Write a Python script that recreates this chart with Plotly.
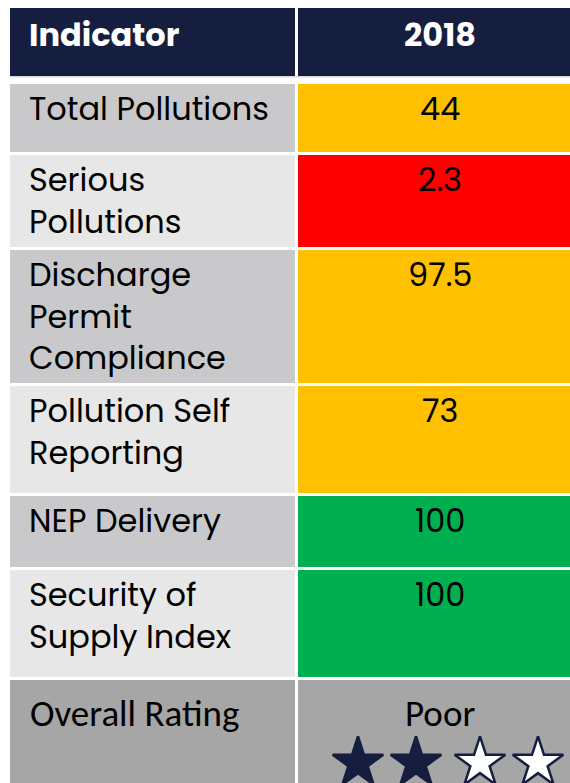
import plotly.graph_objects as go

# ---- data ----
header_labels = ["Indicator", "2018"]
indicators = ["Total Pollutions", "Serious<br>Pollutions", "Discharge<br>Permit<br>Compliance",
              "Pollution Self<br>Reporting", "NEP Delivery", "Security of<br>Supply Index"]
values = ["44", "2.3", "97.5", "73", "100", "100"]
status = ["amber", "red", "amber", "amber", "green", "green"]
overall_label = "Overall Rating"
overall_value = "Poor"
stars_filled = 2
stars_total = 4

# ---- styles / layout ----
W, H = 570, 783
status_color = {"amber": "#FFC000", "red": "#FF0000", "green": "#00B050"}
navy = "#151E3F"
left_bg = ["#C9C9CB", "#E7E7E7"]
overall_bg = "#A6A6A6"
font_main = "Poppins, Open Sans, sans-serif"
font_calibri = "Calibri, Carlito, Lato, sans-serif"
fs = 32

col_left = (10, 295)
col_right = (298, 580)
header_top, header_h = 8, 68
row_start = 84
row_heights = [68, 92, 133, 107, 71, 107, 120]
gap = 3
text_offset = 0
left_pad = 17
right_center = 440

shapes = []
annotations = []

def rect(x0, x1, y0, y1, color):
    shapes.append(dict(type="rect", xref="x", yref="y", x0=x0, x1=x1, y0=y0, y1=y1,
                       fillcolor=color, line=dict(width=0), layer="below"))

def text(x, y, s, anchor, font, size, color="black"):
    annotations.append(dict(x=x, y=y, text=s, xanchor=anchor, yanchor="top",
                            showarrow=False, align="left",
                            font=dict(family=font, size=size, color=color)))

# header
rect(col_left[0], col_left[1], header_top, header_top + header_h, navy)
rect(col_right[0], col_right[1], header_top, header_top + header_h, navy)
rect(col_left[0], col_right[1], header_top + header_h, header_top + header_h + 1.5, "#D9D9DE")
text(col_left[0] + left_pad, header_top + 2, "<b>%s</b>" % header_labels[0], "left", font_main, fs, "white")
text(right_center, header_top + 2, "<b>%s</b>" % header_labels[1], "center", font_main, fs, "white")

# body rows
tops = []
y = row_start
for h in row_heights:
    tops.append(y)
    y += h + gap

for i, (lab, val, st) in enumerate(zip(indicators, values, status)):
    t = tops[i]
    b = t + row_heights[i]
    rect(col_left[0], col_left[1], t, b, left_bg[i % 2])
    rect(col_right[0], col_right[1], t, b, status_color[st])
    text(col_left[0] + left_pad, t + text_offset, lab, "left", font_main, fs)
    text(right_center, t + text_offset, val, "center", font_main, fs)

# overall row
t = tops[-1]
b = t + row_heights[-1]
rect(col_left[0], col_left[1], t, b, overall_bg)
rect(col_right[0], col_right[1], t, b, overall_bg)
text(col_left[0] + left_pad + 1, t + 9, overall_label, "left", font_calibri, 37)
text(right_center, t + 9, overall_value, "center", font_calibri, 37)

# stars
star_center = 448
star_spacing = 58
star_x = [star_center + (i - (stars_total - 1) / 2) * star_spacing + (3 if i >= stars_filled else -3)
          for i in range(stars_total)]
star_y = [t + 83] * stars_total
fill = [navy if i < stars_filled else "white" for i in range(stars_total)]

fig = go.Figure()
fig.add_trace(go.Scatter(x=star_x, y=star_y, mode="markers", hoverinfo="skip",
                         marker=dict(symbol="star", size=38, color=fill,
                                     line=dict(color=navy, width=2.5)),
                         showlegend=False))

fig.update_layout(width=W, height=H, margin=dict(l=0, r=0, t=0, b=0),
                  paper_bgcolor="white", plot_bgcolor="white",
                  shapes=shapes, annotations=annotations,
                  xaxis=dict(range=[0, W], visible=False, fixedrange=True),
                  yaxis=dict(range=[H, 0], visible=False, fixedrange=True))
fig.write_html("out.html", config={"displayModeBar": False},
               post_script="document.body.style.margin='0';document.body.style.overflow='hidden';")
